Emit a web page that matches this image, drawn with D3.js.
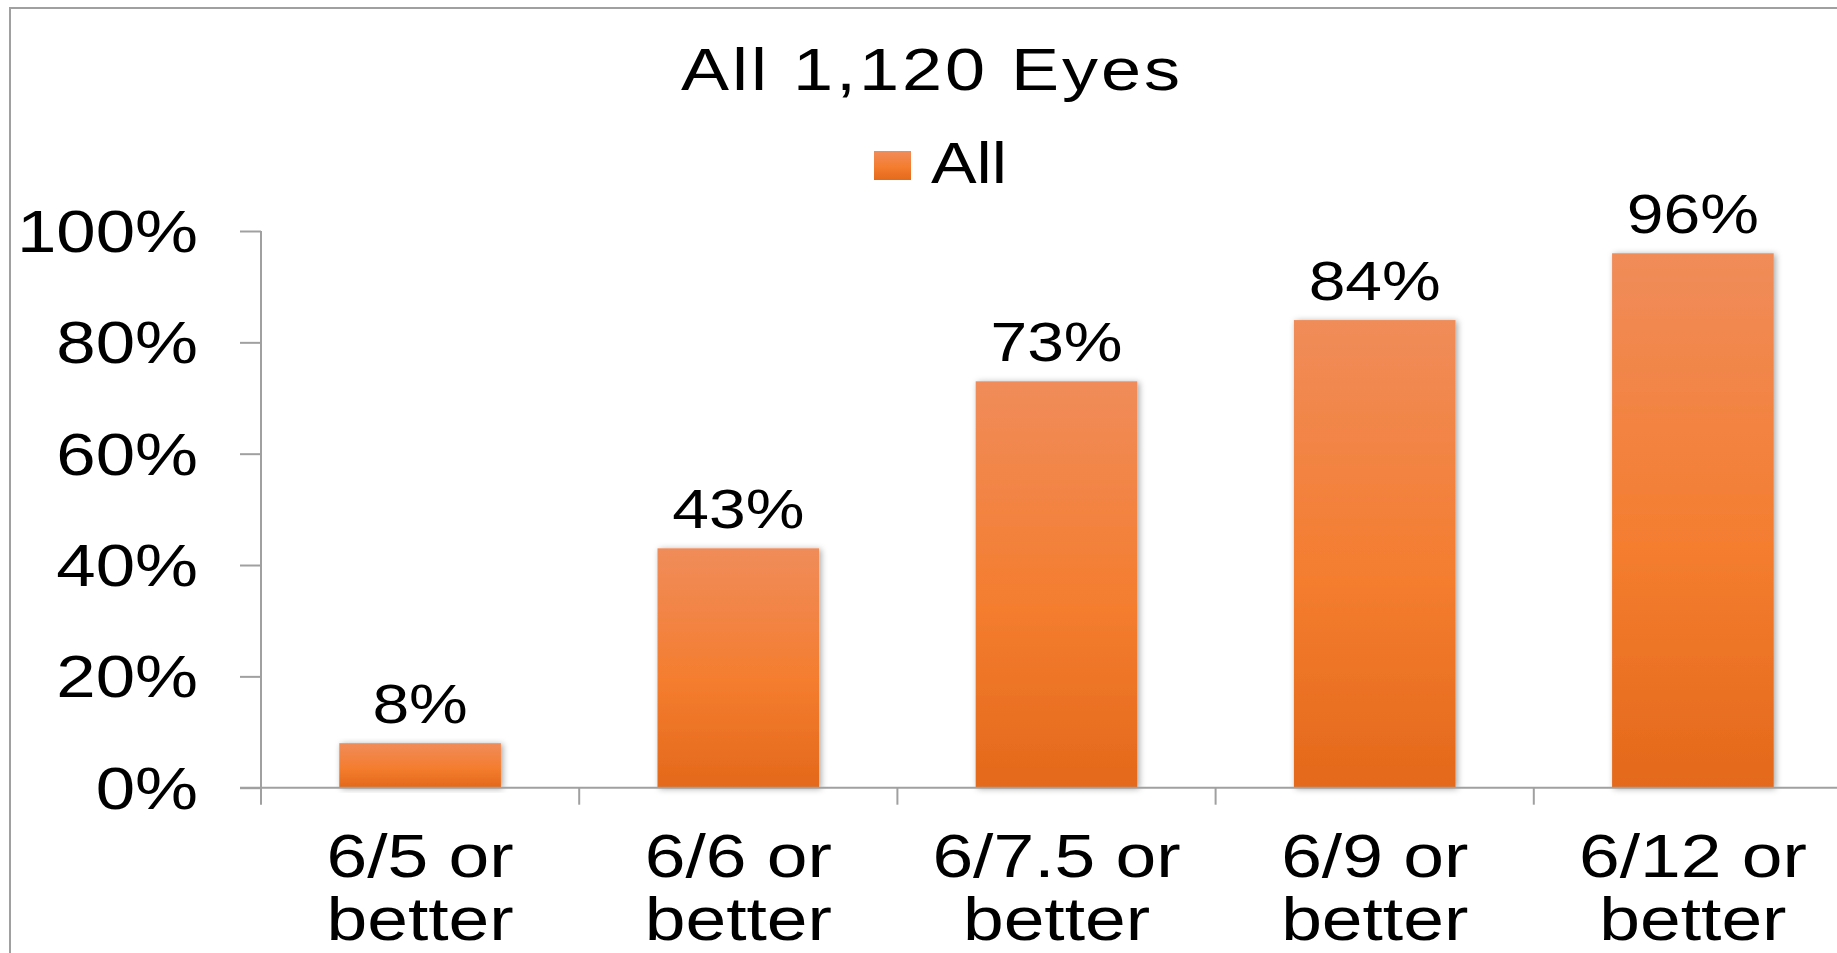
<!DOCTYPE html>
<html>
<head>
<meta charset="utf-8">
<script src="https://cdn.jsdelivr.net/npm/d3@7"></script>
<style>
  body { margin: 0; background: #fff; }
  svg { display: block; }
  text { font-family: "Liberation Sans", Arial, Helvetica, sans-serif; fill: #000; }
</style>
</head>
<body>
<svg id="chart" width="1837" height="953"></svg>
<script>
// Share of eyes reaching each visual acuity threshold
const chartTitle = "All 1,120 Eyes";
const seriesName = "All";
const categories = ["6/5 or better", "6/6 or better", "6/7.5 or better", "6/9 or better", "6/12 or better"];
const values = [8, 43, 73, 84, 96];
const yTicks = [0, 20, 40, 60, 80, 100];

const svg = d3.select("#chart");
const SX = 1.2;               // horizontal glyph stretch used throughout the slide
const axisColor = "#a0a0a0";

const plotLeft = 261, plotTop = 231, plotBottom = 787.7;
const step = 318.2;

const x = d3.scaleBand()
  .domain(categories)
  .range([plotLeft, plotLeft + step * categories.length])
  .paddingInner(0.492)
  .paddingOuter(0.492 / 2);

const y = d3.scaleLinear().domain([0, 100]).range([plotBottom, plotTop]);

// gradient + shadow for the bars
const defs = svg.append("defs");
const grad = defs.append("linearGradient")
  .attr("id", "barFill").attr("x1", 0).attr("y1", 0).attr("x2", 0).attr("y2", 1);
grad.append("stop").attr("offset", "0%").attr("stop-color", "#f08c5a");
grad.append("stop").attr("offset", "55%").attr("stop-color", "#f47d2f");
grad.append("stop").attr("offset", "100%").attr("stop-color", "#e4691b");

const shadow = defs.append("filter").attr("id", "barShadow")
  .attr("x", "-20%").attr("y", "-10%").attr("width", "140%").attr("height", "120%");
shadow.append("feDropShadow")
  .attr("dx", 2).attr("dy", 1).attr("stdDeviation", 3)
  .attr("flood-color", "#000").attr("flood-opacity", 0.35);

function label(parent, px, py, str, size, anchor) {
  return parent.append("text")
    .attr("transform", `translate(${px},${py}) scale(${SX},1)`)
    .attr("text-anchor", anchor)
    .attr("font-size", size)
    .text(str);
}

// outer chart frame (extends past the right and bottom edges)
svg.append("rect")
  .attr("x", 10).attr("y", 8).attr("width", 2000).attr("height", 1200)
  .attr("fill", "none").attr("stroke", axisColor).attr("stroke-width", 2);

// title
label(svg, 932, 90, chartTitle, 60, "middle").attr("letter-spacing", 2.5);

// legend
svg.append("rect")
  .attr("x", 874).attr("y", 151).attr("width", 37).attr("height", 29)
  .attr("fill", "url(#barFill)");
label(svg, 931, 183, seriesName, 57, "start");

// bars
svg.append("g").selectAll("rect")
  .data(values)
  .join("rect")
  .attr("x", (d, i) => x(categories[i]))
  .attr("width", x.bandwidth())
  .attr("y", d => y(d))
  .attr("height", d => y(0) - y(d))
  .attr("fill", "url(#barFill)")
  .attr("filter", "url(#barShadow)");

// y axis
const yAxis = d3.axisLeft(y).tickValues(yTicks).tickSize(21).tickFormat(() => "");
const yg = svg.append("g").attr("transform", `translate(${plotLeft},0)`).call(yAxis);
yg.select(".domain").remove();
yg.selectAll(".tick line").attr("stroke", axisColor).attr("stroke-width", 2);
yg.append("line")
  .attr("x1", 0).attr("x2", 0).attr("y1", plotTop).attr("y2", plotBottom)
  .attr("stroke", axisColor).attr("stroke-width", 2);
yTicks.forEach(t => label(svg, 198, y(t) + 21, t + "%", 59, "end"));

// x axis
const xg = svg.append("g");
xg.append("line")
  .attr("x1", plotLeft - 21).attr("x2", 1837).attr("y1", y(0)).attr("y2", y(0))
  .attr("stroke", axisColor).attr("stroke-width", 2);
const bounds = categories.map(c => x(c) - x.step() * x.paddingInner() / 2);
bounds.push(bounds[bounds.length - 1] + x.step());
xg.selectAll("line.tick")
  .data(bounds)
  .join("line")
  .attr("class", "tick")
  .attr("x1", d => d).attr("x2", d => d)
  .attr("y1", y(0)).attr("y2", y(0) + 17)
  .attr("stroke", axisColor).attr("stroke-width", 2);

// category labels on two lines
categories.forEach(c => {
  const cx = x(c) + x.bandwidth() / 2;
  const cut = c.lastIndexOf(" ");
  label(svg, cx, 877, c.slice(0, cut), 61, "middle");
  label(svg, cx, 940, c.slice(cut + 1), 61, "middle");
});

// value labels
values.forEach((v, i) => {
  const cx = x(categories[i]) + x.bandwidth() / 2;
  label(svg, cx, y(v) - 20, v + "%", 55, "middle");
});
</script>
</body>
</html>
